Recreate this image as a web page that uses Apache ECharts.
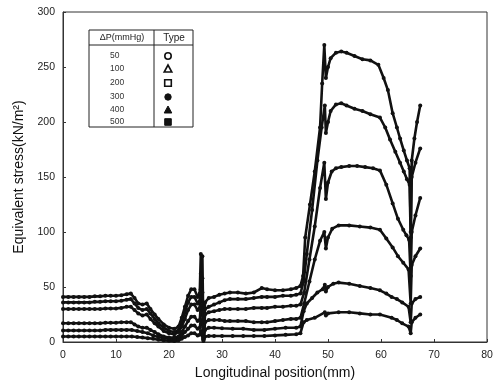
<!DOCTYPE html>
<html>
<head>
<meta charset="utf-8">
<script src="https://cdn.jsdelivr.net/npm/echarts@6/dist/echarts.min.js"></script>
<style>html,body{margin:0;padding:0;background:#fff}#c{width:498px;height:388px}</style>
</head>
<body>
<div id="c"></div>
<script>
// ---- data ----
var xTicks = [0, 10, 20, 30, 40, 50, 60, 70, 80];
var yTicks = [0, 50, 100, 150, 200, 250, 300];
var legendPressures = ['50', '100', '200', '300', '400', '500'];
var legendMarkers = ['circle-open', 'triangle-open', 'square-open', 'circle', 'triangle', 'square'];

var s500 = [[0,41],[1,41],[2,41],[3,41],[4,41],[5,41],[6,41.5],[7,41.5],[8,42],[9,42],[10,42],[11,42.5],[12,43.5],[12.8,44],[13.5,40],[14.2,35],[15,34],[15.8,35],[16.5,30],[17.3,25],[18,21],[19,16],[20,13],[21,12],[21.8,14],[22.4,22],[23,32],[23.6,42],[24.2,48],[24.8,48],[25.4,41],[25.8,44],[26.0,80],[26.3,78],[26.5,4],[26.8,36],[27.5,40],[28.5,41],[29.5,43],[30.5,44],[31.5,45],[33,45],[34.5,44],[36,45],[37.5,49],[38.5,48],[40,47],[41.5,47],[43,48],[44,49],[44.8,51],[45.3,60],[45.7,95],[46.6,125],[47.5,155],[48.5,195],[48.9,235],[49.3,270],[49.6,240],[50,250],[50.5,258],[51.5,263],[52.5,264],[53.5,263],[55,260],[56.5,257],[58,256],[59.5,252],[60.5,240],[61.3,229],[62.2,208],[63,195],[63.6,185],[64.3,174],[64.9,165],[65.4,158],[65.6,100],[65.8,165],[66.3,185],[66.8,200],[67.4,215]];
var s400 = [[0,36],[1,36],[2,36],[3,36],[4,36],[5,36],[6,36.5],[7,36.5],[8,37],[9,37],[10,37],[11,37.5],[12,38.5],[12.8,39],[13.5,35],[14.2,31],[15,29],[15.8,30],[16.5,26],[17.3,21],[18,17],[19,13],[20,10],[21,9],[21.8,11],[22.4,18],[23,27],[23.6,36],[24.2,41],[24.8,41],[25.4,35],[25.8,37],[26.0,62],[26.3,58],[26.5,3],[26.8,30],[27.5,32],[28.5,34],[29.5,36],[30.5,38],[31.5,39],[33,39],[34.5,39],[36,40],[37.5,41],[38.5,41],[40,41],[41.5,42],[43,42],[44,43],[44.8,44],[45.4,55],[46,80],[47,120],[48,165],[48.8,195],[49.4,215],[49.6,190],[50,200],[50.5,210],[51.5,216],[52.5,217],[53.5,215],[55,212],[56.5,210],[58,207],[59.8,204],[60.8,195],[61.7,184],[62.7,173],[63.6,163],[64.3,155],[64.9,148],[65.4,143],[65.6,95],[65.8,150],[66.5,163],[67.4,176]];
var s300 = [[0,30],[1,30],[2,30],[3,30],[4,30],[5,30],[6,30],[7,30],[8,30.5],[9,30.5],[10,30.5],[11,31],[12,32],[12.8,32],[13.5,29],[14.2,26],[15,24],[15.8,25],[16.5,21],[17.3,17],[18,14],[19,10],[20,8],[21,7],[21.8,9],[22.4,14],[23,21],[23.6,29],[24.2,34],[24.8,34],[25.4,29],[25.8,31],[26.0,48],[26.3,45],[26.5,3],[26.8,25],[27.5,27],[28.5,28],[29.5,29],[30.5,30],[31.5,30],[33,30],[34.5,30],[36,31],[37.5,31],[38.5,31],[40,32],[41.5,32],[43,33],[44,33],[44.8,34],[45.5,45],[46.5,75],[47.5,105],[48.5,140],[49.3,163],[49.6,130],[50,145],[50.7,155],[51.5,158],[52.5,159],[54,160],[55.5,160],[57,159],[58.5,158],[59.8,156],[61,143],[62.2,126],[63.2,112],[64.2,102],[64.8,97],[65.3,93],[65.6,60],[65.8,100],[66.5,115],[67.4,131]];
var s200 = [[0,17],[1,17],[2,17],[3,17],[4,17],[5,17],[6,17],[7,17],[8,17.5],[9,17.5],[10,17.5],[11,18],[12,18],[12.8,18],[13.5,16],[14.2,14],[15,13],[15.8,13],[16.5,11],[17.3,9],[18,7],[19,5],[20,4],[21,4],[21.8,5],[22.4,9],[23,14],[23.6,19],[24.2,23],[24.8,23],[25.4,19],[25.8,20],[26.0,33],[26.3,30],[26.5,2],[26.8,18],[27.5,20],[28.5,20],[29.5,20],[30.5,19],[31.5,19],[33,19],[34.5,19],[36,18],[37.5,18],[38.5,18],[40,19],[41.5,20],[43,21],[44,21],[44.8,22],[45.5,35],[46.5,55],[47.5,75],[48.5,92],[49.3,100],[49.6,85],[50,95],[50.8,103],[52,106],[54,106],[56,105],[58,104],[59.8,102],[61,94],[62.2,86],[63.2,78],[64.2,72],[65.2,66],[65.6,35],[65.8,70],[66.5,78],[67.4,85]];
var s100 = [[0,10.5],[1,10.5],[2,10.5],[3,10.5],[4,10.5],[5,10.5],[6,10.5],[7,10.5],[8,11],[9,11],[10,11],[11,11],[12,11],[13,11],[14,10],[15,9],[16,8],[17,6],[18,4.5],[19,3.5],[20,3],[21,2.5],[21.8,3],[22.4,6],[23,9],[23.6,12],[24.2,15],[24.8,15],[25.4,12],[25.8,13],[26.0,20],[26.3,18],[26.5,2],[26.8,11],[27.5,13],[28.5,13],[30,12.5],[32,12],[34,12],[36,11],[38,11],[40,12],[42,13],[44,13],[44.8,14],[45.4,28],[46,35],[47,40],[48,45],[49,48],[49.4,52],[49.6,46],[50,50],[51,53],[52,54],[54,53],[56,51],[58,49],[59.8,47],[61,44],[62,41],[63,39],[64,36],[65.2,32],[65.6,18],[65.8,35],[66.5,39],[67.4,41]];
var s50 = [[0,5],[1,5],[2,5],[3,5],[4,5],[5,5],[6,5],[7,5],[8,5],[9,5],[10,5],[11,5],[12,5],[13,5],[14,4.5],[15,4],[16,3.5],[17,3],[18,2],[19,1.5],[20,1.2],[21,1],[21.8,1.5],[22.4,3],[23,4.5],[23.6,6],[24.2,8],[24.8,8],[25.4,6],[25.8,6.5],[26.0,10],[26.3,9],[26.5,1],[26.8,5],[27.5,5.5],[28.5,5.5],[30,5.5],[32,5.5],[34,5.5],[36,5.5],[38,5.5],[40,6],[42,6.5],[44,7],[44.8,8],[45.4,18],[46,20],[47.5,22],[49.4,27],[49.6,24],[50,26],[52,27],[54,27],[56,26],[58,25],[59.8,25],[62,22],[63,20],[64,17],[65.2,14],[65.6,8],[65.8,18],[66.5,22],[67.4,25]];

var seriesData = [s50, s100, s200, s300, s400, s500];

// ---- chart ----
var chart = echarts.init(document.getElementById('c'), null, {renderer: 'canvas'});
var FONT = 'Liberation Sans, Arial, sans-serif';

var series = seriesData.map(function (d, i) {
  return {
    type: 'line',
    name: legendPressures[i],
    data: d,
    symbol: 'circle',
    symbolSize: 4,
    showAllSymbol: true,
    itemStyle: {color: '#111'},
    lineStyle: {color: '#111', width: 2.6},
    z: 3
  };
});

// table graphic
var tbl = {x: 89, y: 30, w: 104, h: 97, hdr: 15, col: 154};
var rowY = [56, 69, 83, 97, 110, 122];
var graphics = [
  {type: 'rect', shape: {x: tbl.x, y: tbl.y, width: tbl.w, height: tbl.h}, style: {fill: '#fff', stroke: '#222', lineWidth: 1}, z: 10},
  {type: 'line', shape: {x1: tbl.x, y1: tbl.y + tbl.hdr, x2: tbl.x + tbl.w, y2: tbl.y + tbl.hdr}, style: {stroke: '#222', lineWidth: 1}, z: 11},
  {type: 'line', shape: {x1: tbl.col, y1: tbl.y, x2: tbl.col, y2: tbl.y + tbl.h}, style: {stroke: '#222', lineWidth: 1}, z: 11},
  {type: 'text', x: 122, y: 38, style: {text: '\u0394P(mmHg)', font: '9px ' + FONT, fill: '#222', align: 'center', verticalAlign: 'middle'}, z: 11},
  {type: 'text', x: 174, y: 38, style: {text: 'Type', font: '10px ' + FONT, fill: '#222', align: 'center', verticalAlign: 'middle'}, z: 11}
];
legendPressures.forEach(function (p, i) {
  graphics.push({type: 'text', x: 110, y: rowY[i], style: {text: p, font: '8.5px ' + FONT, fill: '#333', align: 'left', verticalAlign: 'middle'}, z: 11});
  var m = legendMarkers[i];
  var open = m.indexOf('open') >= 0;
  var st = open ? {fill: '#fff', stroke: '#111', lineWidth: 1.6} : {fill: '#111', stroke: '#111', lineWidth: 1};
  var cx = 168, cy = rowY[i];
  if (m.indexOf('circle') === 0) {
    graphics.push({type: 'circle', shape: {cx: cx, cy: cy, r: 3.2}, style: st, z: 11});
  } else if (m.indexOf('triangle') === 0) {
    graphics.push({type: 'polygon', shape: {points: [[cx, cy - 4], [cx - 3.8, cy + 3], [cx + 3.8, cy + 3]]}, style: st, z: 11});
  } else {
    graphics.push({type: 'rect', shape: {x: cx - 3.3, y: cy - 3.3, width: 6.6, height: 6.6}, style: st, z: 11});
  }
});

chart.setOption({
  animation: false,
  backgroundColor: '#fff',
  grid: {left: 63, right: 11, top: 12, bottom: 46, show: true, borderColor: '#333', borderWidth: 1, backgroundColor: 'transparent'},
  xAxis: {
    type: 'value', min: xTicks[0], max: xTicks[xTicks.length - 1], interval: 10,
    name: 'Longitudinal position(mm)', nameLocation: 'middle', nameGap: 23,
    nameTextStyle: {fontFamily: FONT, fontSize: 14, color: '#111'},
    axisLine: {show: true, lineStyle: {color: '#333', width: 1}},
    axisTick: {show: true, inside: true, length: 3, lineStyle: {color: '#333'}},
    axisLabel: {fontFamily: FONT, fontSize: 10.5, color: '#222', margin: 8},
    splitLine: {show: false}
  },
  yAxis: {
    type: 'value', min: yTicks[0], max: yTicks[yTicks.length - 1], interval: 50,
    name: 'Equivalent stress(kN/m\u00B2)', nameLocation: 'middle', nameGap: 34, nameRotate: 90,
    nameTextStyle: {fontFamily: FONT, fontSize: 14, color: '#111'},
    axisLine: {show: true, lineStyle: {color: '#333', width: 1}},
    axisTick: {show: true, inside: true, length: 3, lineStyle: {color: '#333'}},
    axisLabel: {fontFamily: FONT, fontSize: 10.5, color: '#222', margin: 8},
    splitLine: {show: false}
  },
  series: series,
  graphic: graphics
});
</script>
</body>
</html>
